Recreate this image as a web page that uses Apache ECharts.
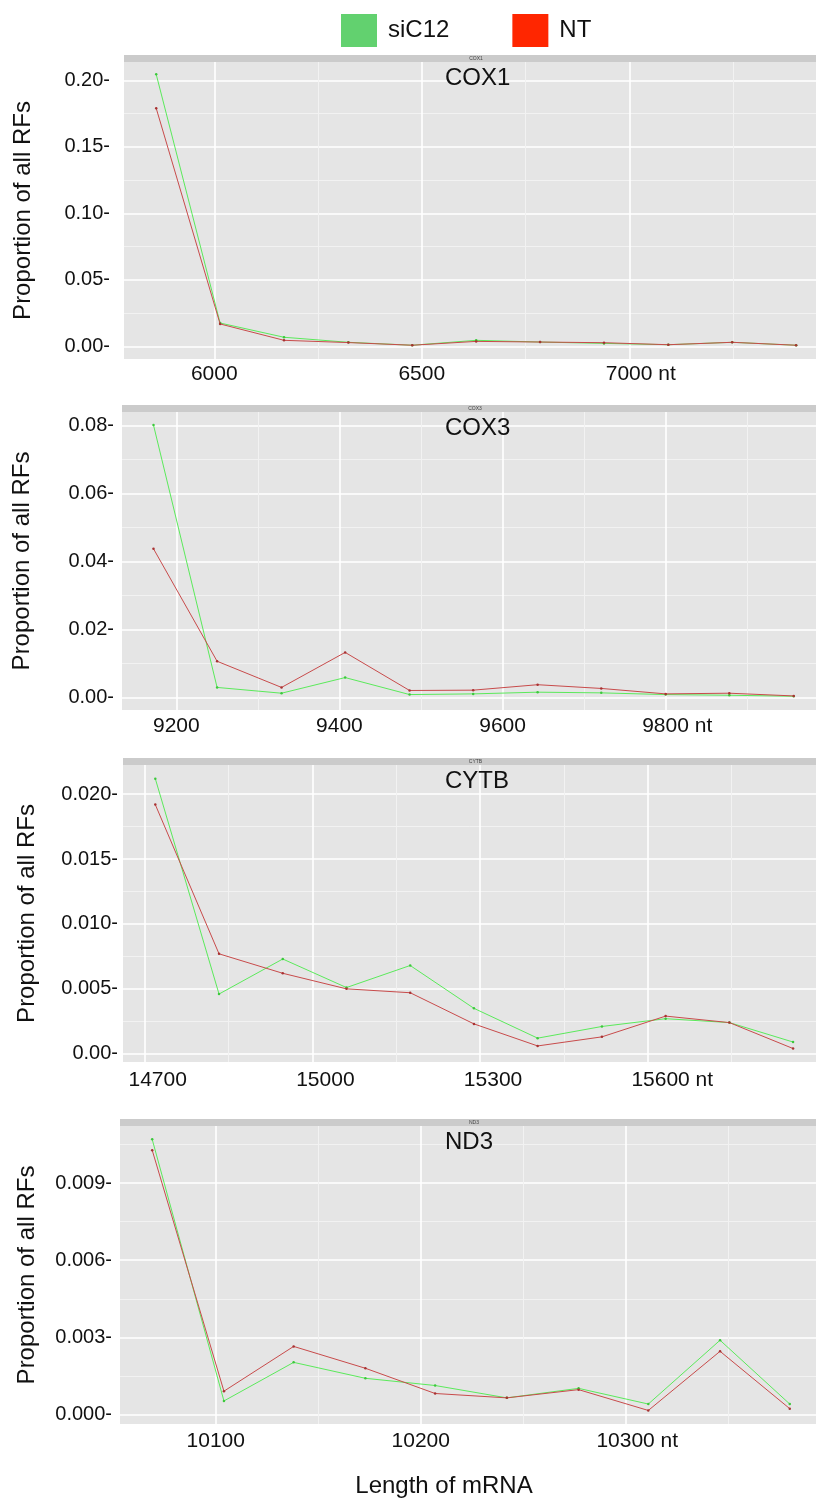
<!DOCTYPE html>
<html>
<head>
<meta charset="utf-8">
<title>Proportion of RFs by mRNA length</title>
<script src="https://cdn.jsdelivr.net/npm/echarts@6.0.0/dist/echarts.min.js"></script>
<style>
  html, body { margin: 0; padding: 0; background: #ffffff; }
  #chart { width: 816px; height: 1499px; }
</style>
</head>
<body>
<div id="chart"></div>
<script>
// ---- data -------------------------------------------------------------
const seriesNames = ['siC12', 'NT'];
const genes = ['COX1', 'COX3', 'CYTB', 'ND3'];

// COX1
const cox1Length = [5860, 6014, 6168, 6323, 6477, 6631, 6785, 6939, 7094, 7248, 7402];
const cox1SiC12  = [0.2045, 0.0175, 0.0068, 0.0030, 0.0008, 0.0045, 0.0032, 0.0022, 0.0012, 0.0030, 0.0008];
const cox1NT     = [0.1790, 0.0168, 0.0045, 0.0028, 0.0008, 0.0037, 0.0032, 0.0027, 0.0012, 0.0030, 0.0008];

// COX3
const cox3Length = [9172, 9250, 9329, 9407, 9486, 9564, 9643, 9721, 9800, 9878, 9957];
const cox3SiC12  = [0.0801, 0.0029, 0.0012, 0.0058, 0.0008, 0.0010, 0.0015, 0.0013, 0.0008, 0.0006, 0.0003];
const cox3NT     = [0.0437, 0.0106, 0.0029, 0.0132, 0.0020, 0.0021, 0.0037, 0.0026, 0.0010, 0.0012, 0.0004];

// CYTB
const cytbLength = [14719, 14833, 14947, 15061, 15175, 15289, 15403, 15518, 15632, 15746, 15860];
const cytbSiC12  = [0.0212, 0.0046, 0.0073, 0.0051, 0.0068, 0.0035, 0.0012, 0.0021, 0.0027, 0.0024, 0.0009];
const cytbNT     = [0.0192, 0.0077, 0.0062, 0.0050, 0.0047, 0.0023, 0.0006, 0.0013, 0.0029, 0.0024, 0.0004];

// ND3
const nd3Length = [10069, 10104, 10138, 10173, 10207, 10242, 10277, 10311, 10346, 10380];
const nd3SiC12  = [0.0107, 0.00053, 0.00203, 0.00141, 0.00113, 0.00065, 0.00102, 0.00041, 0.00289, 0.00041];
const nd3NT     = [0.01028, 0.00091, 0.00265, 0.00180, 0.00082, 0.00065, 0.00097, 0.00016, 0.00246, 0.00023];

// tick values and their labels
const cox1XTicks = [6000, 6500, 7000];
const cox1XLabels = ['6000', '6500', '7000 nt'];
const cox1XMinor = [6250, 6750, 7250];
const cox1YTicks = [0, 0.05, 0.10, 0.15, 0.20];
const cox1YLabels = ['0.00', '0.05', '0.10', '0.15', '0.20'];
const cox1YMinor = [0.025, 0.075, 0.125, 0.175];

const cox3XTicks = [9200, 9400, 9600, 9800];
const cox3XLabels = ['9200', '9400', '9600', '9800 nt'];
const cox3XMinor = [9300, 9500, 9700, 9900];
const cox3YTicks = [0, 0.02, 0.04, 0.06, 0.08];
const cox3YLabels = ['0.00', '0.02', '0.04', '0.06', '0.08'];
const cox3YMinor = [0.01, 0.03, 0.05, 0.07];

const cytbXTicks = [14700, 15000, 15300, 15600];
const cytbXLabels = ['14700', '15000', '15300', '15600 nt'];
const cytbXMinor = [14850, 15150, 15450, 15750];
const cytbYTicks = [0, 0.005, 0.010, 0.015, 0.020];
const cytbYLabels = ['0.00', '0.005', '0.010', '0.015', '0.020'];
const cytbYMinor = [0.0025, 0.0075, 0.0125, 0.0175];

const nd3XTicks = [10100, 10200, 10300];
const nd3XLabels = ['10100', '10200', '10300 nt'];
const nd3XMinor = [10150, 10250, 10350];
const nd3YTicks = [0, 0.003, 0.006, 0.009];
const nd3YLabels = ['0.000', '0.003', '0.006', '0.009'];
const nd3YMinor = [0.0015, 0.0045, 0.0075, 0.0105];

// ---- panel definitions ---------------------------------------------
const panels = [
  { gene: genes[0], length: cox1Length, values: [cox1SiC12, cox1NT],
    xTicks: cox1XTicks, xLabels: cox1XLabels, xMinor: cox1XMinor,
    yTicks: cox1YTicks, yLabels: cox1YLabels, yMinor: cox1YMinor },
  { gene: genes[1], length: cox3Length, values: [cox3SiC12, cox3NT],
    xTicks: cox3XTicks, xLabels: cox3XLabels, xMinor: cox3XMinor,
    yTicks: cox3YTicks, yLabels: cox3YLabels, yMinor: cox3YMinor },
  { gene: genes[2], length: cytbLength, values: [cytbSiC12, cytbNT],
    xTicks: cytbXTicks, xLabels: cytbXLabels, xMinor: cytbXMinor,
    yTicks: cytbYTicks, yLabels: cytbYLabels, yMinor: cytbYMinor },
  { gene: genes[3], length: nd3Length, values: [nd3SiC12, nd3NT],
    xTicks: nd3XTicks, xLabels: nd3XLabels, xMinor: nd3XMinor,
    yTicks: nd3YTicks, yLabels: nd3YLabels, yMinor: nd3YMinor }
];

// layout of each facet: plot box in px and the visible axis ranges
const frames = [
  { left: 124, top: 62,   width: 692, height: 297, xMin: 5782.4,  xMax: 7449.9,  yMin: -0.00955,  yMax: 0.2138,   yLabelMargin: 14, nameGap: 89, xLabelMargin: 5, xShift: 0 },
  { left: 122, top: 412,  width: 694, height: 298, xMin: 9133.4,  xMax: 9984.3,  yMin: -0.00374,  yMax: 0.08392,  yLabelMargin: 8,  nameGap: 88, xLabelMargin: 6, xShift: 0 },
  { left: 123, top: 765,  width: 693, height: 297, xMin: 14661.2, xMax: 15901,   yMin: -0.000638, yMax: 0.022254, yLabelMargin: 5,  nameGap: 84, xLabelMargin: 8, xShift: 26 },
  { left: 120, top: 1126, width: 696, height: 298, xMin: 10053.3, xMax: 10392.8, yMin: -0.000366, yMax: 0.011218, yLabelMargin: 8,  nameGap: 81, xLabelMargin: 7, xShift: 0 }
];

const FONT = 'Liberation Sans, Arial, Helvetica, sans-serif';
const TEXT = '#111111';
const lineColors = ['#5BEA5B', '#C84B4B'];
const dotColors = ['#3CC83C', '#A83232'];
const keyColors = ['#62D16F', '#FF2600'];

function labelFor(ticks, labels, v) {
  for (let i = 0; i < ticks.length; i++) {
    if (Math.abs(ticks[i] - v) < 1e-9 * Math.max(1, Math.abs(v))) return labels[i];
  }
  return '';
}

const option = {
  animation: false,
  textStyle: { fontFamily: FONT },
  legend: {
    left: 336, top: 9,
    icon: 'rect',
    itemWidth: 36, itemHeight: 33, itemGap: 63,
    selectedMode: false,
    textStyle: { fontSize: 24, color: TEXT, fontFamily: FONT, padding: [0, 0, 0, 6] },
    data: seriesNames.map((n, i) => ({
      name: n,
      itemStyle: { color: keyColors[i], borderWidth: 0 },
      lineStyle: { opacity: 0, width: 0 }
    }))
  },
  grid: [],
  xAxis: [],
  yAxis: [],
  series: [],
  graphic: []
};

panels.forEach((p, k) => {
  const f = frames[k];
  option.grid.push({
    left: f.left, top: f.top, width: f.width, height: f.height,
    show: true, backgroundColor: '#E5E5E5', borderWidth: 0,
    containLabel: false, outerBoundsMode: 'none'
  });

  // minor grid lines (drawn first, below the major ones)
  option.xAxis.push({
    type: 'value', gridIndex: k, position: 'top', min: f.xMin, max: f.xMax,
    axisLine: { show: false }, axisLabel: { show: false },
    axisTick: { show: false, customValues: p.xMinor },
    splitLine: { show: true, lineStyle: { color: '#F2F2F2', width: 1 } }
  });
  option.yAxis.push({
    type: 'value', gridIndex: k, position: 'right', min: f.yMin, max: f.yMax,
    axisLine: { show: false }, axisLabel: { show: false },
    axisTick: { show: false, customValues: p.yMinor },
    splitLine: { show: true, lineStyle: { color: '#F2F2F2', width: 1 } }
  });

  // major axes with labels
  option.xAxis.push({
    type: 'value', gridIndex: k, position: 'bottom', min: f.xMin, max: f.xMax,
    axisLine: { show: false },
    axisTick: { show: false, customValues: p.xTicks },
    axisLabel: {
      customValues: p.xTicks,
      fontSize: 21, color: TEXT, fontFamily: FONT,
      margin: f.xLabelMargin,
      padding: [0, 0, 0, f.xShift],
      formatter: v => {
        const s = labelFor(p.xTicks, p.xLabels, v);
        return s.indexOf(' nt') >= 0 ? '{pad| }' + s : s;
      },
      rich: { pad: { width: 23, fontSize: 21 } }
    },
    splitLine: { show: true, lineStyle: { color: '#FFFFFF', width: 1.6 } }
  });
  option.yAxis.push({
    type: 'value', gridIndex: k, position: 'left', min: f.yMin, max: f.yMax,
    axisLine: { show: false },
    axisTick: { show: false, customValues: p.yTicks },
    axisLabel: {
      customValues: p.yTicks,
      fontSize: 20, color: TEXT, fontFamily: FONT,
      margin: f.yLabelMargin,
      formatter: v => labelFor(p.yTicks, p.yLabels, v) + '-'
    },
    splitLine: { show: true, lineStyle: { color: '#FFFFFF', width: 1.6 } },
    name: 'Proportion of all RFs',
    nameLocation: 'middle',
    nameRotate: 90,
    nameGap: f.nameGap,
    nameTextStyle: { fontSize: 24, color: TEXT, fontFamily: FONT }
  });

  const xi = 2 * k + 1, yi = 2 * k + 1;
  seriesNames.forEach((name, s) => {
    option.series.push({
      type: 'line', name: name,
      xAxisIndex: xi, yAxisIndex: yi,
      data: p.length.map((x, i) => [x, p.values[s][i]]),
      showSymbol: true, symbol: 'circle', symbolSize: 2.5,
      lineStyle: { color: lineColors[s], width: 1 },
      itemStyle: { color: dotColors[s] },
      emphasis: { disabled: true },
      silent: true,
      z: 3 + s
    });
  });

  // facet strip with its tiny label
  option.graphic.push({
    type: 'rect', silent: true,
    shape: { x: f.left, y: f.top - 7, width: f.width, height: 7 },
    style: { fill: '#CBCBCB' }
  });
  option.graphic.push({
    type: 'text', silent: true,
    x: f.left + f.width / 2 + 6, y: f.top - 3.5,
    style: { text: p.gene, fontSize: 5, fontFamily: FONT, fill: '#444', align: 'center', verticalAlign: 'middle' }
  });
  // gene name inside the panel
  option.graphic.push({
    type: 'text', silent: true, z: 10,
    x: 445, y: f.top + 16,
    style: { text: p.gene, fontSize: 24, fontFamily: FONT, fill: TEXT, align: 'left', verticalAlign: 'middle' }
  });
});

// shared x-axis title
option.graphic.push({
  type: 'text', silent: true,
  x: 444, y: 1486,
  style: { text: 'Length of mRNA', fontSize: 24, fontFamily: FONT, fill: TEXT, align: 'center', verticalAlign: 'middle' }
});

const chart = echarts.init(document.getElementById('chart'), null, { renderer: 'canvas' });
chart.setOption(option);
</script>
</body>
</html>
